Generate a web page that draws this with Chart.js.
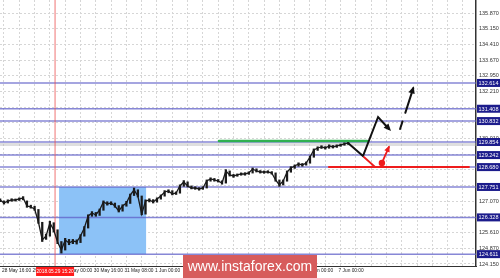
<!DOCTYPE html>
<html>
<head>
<meta charset="utf-8">
<script src="https://cdn.jsdelivr.net/npm/chart.js@4.4.0/dist/chart.umd.min.js"></script>
<style>
  html, body { margin: 0; padding: 0; background: #fff; }
</style>
</head>
<body>
<canvas id="chart" width="500" height="278"></canvas>
<script>
// price bars, one every 2 hours, hour 0 = 28 May 16:00
const firstHour = -2
const hourStep = 2
const closes = [
  127.142, 127.002, 127.095, 127.142, 127.142, 127.189, 127.235, 126.861, 126.815, 126.721,
  126.113, 125.272, 125.459, 126.067, 125.739, 125.178, 124.804, 125.272, 125.132, 125.225,
  125.178, 125.459, 125.833, 126.394, 126.534, 126.441, 126.674, 127.048, 126.955, 127.002,
  126.861, 126.628, 126.861, 127.002, 127.376, 127.609, 127.329, 126.487, 127.095, 127.142,
  127.048, 127.189, 127.329, 127.516, 127.563, 127.422, 127.469, 127.797, 127.984, 127.797,
  127.703, 127.703, 127.656, 127.703, 128.030, 128.124, 128.077, 128.030, 127.937, 128.498,
  128.311, 128.264, 128.311, 128.358, 128.358, 128.404, 128.591, 128.498, 128.451, 128.451,
  128.451, 128.404, 128.077, 127.843, 128.030, 128.451, 128.638, 128.731, 128.825, 128.778,
  128.872, 129.152, 129.479, 129.573, 129.620, 129.573, 129.667, 129.620, 129.667, 129.713,
  129.760, 129.807
]
const highs = [
  127.20, 127.10, 127.15, 127.20, 127.19, 127.24, 127.30, 127.10, 126.90, 126.85,
  126.70, 126.10, 125.55, 126.15, 126.08, 125.75, 125.20, 125.35, 125.30, 125.30,
  125.28, 125.52, 125.90, 126.45, 126.60, 126.56, 126.72, 127.10, 127.06, 127.06,
  127.00, 126.88, 126.92, 127.08, 127.42, 127.70, 127.62, 127.33, 127.15, 127.20,
  127.16, 127.24, 127.38, 127.58, 127.62, 127.58, 127.52, 127.85, 128.05, 127.99,
  127.80, 127.76, 127.72, 127.76, 128.08, 128.18, 128.15, 128.10, 128.04, 128.56,
  128.50, 128.34, 128.36, 128.41, 128.42, 128.46, 128.64, 128.60, 128.52, 128.50,
  128.51, 128.47, 128.41, 128.08, 128.08, 128.50, 128.70, 128.78, 128.88, 128.85,
  128.92, 129.20, 129.53, 129.63, 129.68, 129.64, 129.72, 129.69, 129.72, 129.76,
  129.82, 129.86
]
const lows = [
  127.06, 126.95, 127.00, 127.08, 127.09, 127.12, 127.15, 126.80, 126.76, 126.66,
  126.05, 125.20, 125.30, 125.45, 125.65, 125.10, 124.66, 124.80, 125.05, 125.10,
  125.08, 125.15, 125.45, 125.83, 126.38, 126.38, 126.42, 126.66, 126.90, 126.92,
  126.80, 126.58, 126.62, 126.85, 126.98, 127.35, 127.28, 126.45, 126.48, 127.05,
  127.00, 127.04, 127.18, 127.32, 127.48, 127.38, 127.40, 127.46, 127.78, 127.75,
  127.66, 127.64, 127.60, 127.64, 127.70, 128.02, 128.02, 127.98, 127.88, 127.93,
  128.26, 128.20, 128.25, 128.30, 128.30, 128.34, 128.40, 128.45, 128.40, 128.39,
  128.40, 128.35, 128.02, 127.78, 127.84, 128.02, 128.44, 128.62, 128.72, 128.72,
  128.77, 128.86, 129.14, 129.46, 129.55, 129.52, 129.56, 129.57, 129.60, 129.65,
  129.70, 129.74
]

// horizontal levels (blue lines with labels on the price axis)
const levels = [132.614, 131.408, 130.832, 129.854, 129.242, 128.680, 127.751, 126.328, 124.611]
const bidPrice = 129.74

// axis ticks
const priceTicks = [
  135.870, 135.150, 134.410, 133.670, 132.950, 132.210, 131.470, 130.750, 130.010,
  129.290, 128.550, 127.810, 127.070, 126.350, 125.610, 124.870, 124.150
]
const timeLabels = [
  '28 May 16:00', '29 May 08:00', '30 May 00:00', '30 May 16:00', '31 May 08:00', '1 Jun 00:00',
  '1 Jun 16:00', '4 Jun 08:00', '5 Jun 00:00', '5 Jun 16:00', '6 Jun 00:00', '7 Jun 00:00'
]
const labelEvery = 16
const gridHours = [0, 8, 16, 24, 32, 40, 48, 56, 64, 72, 80, 88, 96, 104, 112, 120, 128, 136,
  144, 152, 160, 168, 176, 184, 192, 200, 208, 216, 224, 232, 240]

// drawn objects (hours, price)
const zone = { from: 28.8, to: 74.3, low: 124.611, high: 127.751 }
const markerHour = 26.7
const markerText = '2018.05.29 15:20'
const greenLevel = { from: 112.4, to: 189.8, price: 129.90 }
const redLevel = { from: 169.9, to: 243.1, price: 128.684 }
const forecastPath = [[179.9, 129.807], [187.7, 129.199], [195.6, 131.022], [201.3, 130.461]]
const forecastNext = [[207.1, 130.46], [214.0, 132.37]]
const pullback = [[188.2, 129.152], [194.0, 128.685]]
const bounce = [[197.6, 128.872], [201.3, 129.62]]

const font = 'Liberation Sans, Arial, sans-serif'
const barHours = closes.map((_, i) => firstHour + i * hourStep)

const arrowHead = (ctx, x1, y1, x2, y2, size) => {
  const a = Math.atan2(y2 - y1, x2 - x1)
  ctx.beginPath()
  ctx.moveTo(x2, y2)
  ctx.lineTo(x2 - size * Math.cos(a - 0.42), y2 - size * Math.sin(a - 0.42))
  ctx.lineTo(x2 - size * Math.cos(a + 0.42), y2 - size * Math.sin(a + 0.42))
  ctx.closePath()
  ctx.fill()
}

const overlays = {
  id: 'overlays',
  beforeDatasetsDraw(chart) {
    const { ctx, chartArea: a, scales: { x, y } } = chart
    ctx.save()
    // blue zone
    const zx1 = x.getPixelForValue(zone.from), zx2 = x.getPixelForValue(zone.to)
    const zy1 = y.getPixelForValue(zone.high), zy2 = y.getPixelForValue(zone.low)
    ctx.fillStyle = 'rgb(140,194,247)'
    ctx.fillRect(zx1, zy1, zx2 - zx1, zy2 - zy1)
    // bid line
    ctx.strokeStyle = 'rgba(185,185,185,0.45)'
    ctx.lineWidth = 3
    ctx.beginPath()
    ctx.moveTo(a.left, y.getPixelForValue(bidPrice))
    ctx.lineTo(a.right, y.getPixelForValue(bidPrice))
    ctx.stroke()
    // levels
    ctx.strokeStyle = 'rgba(95,95,200,0.75)'
    ctx.lineWidth = 1.5
    levels.forEach(p => {
      const yy = y.getPixelForValue(p)
      ctx.beginPath()
      ctx.moveTo(a.left, yy)
      ctx.lineTo(a.right, yy)
      ctx.stroke()
    })
    // vertical marker
    const mx = x.getPixelForValue(markerHour)
    ctx.strokeStyle = 'rgba(235,80,80,0.8)'
    ctx.lineWidth = 1
    ctx.beginPath()
    ctx.moveTo(mx, a.top)
    ctx.lineTo(mx, a.bottom)
    ctx.stroke()
    ctx.restore()
  },
  afterDatasetsDraw(chart) {
    const { ctx, scales: { x, y } } = chart
    const pt = ([h, p]) => [x.getPixelForValue(h), y.getPixelForValue(p)]
    ctx.save()
    ctx.lineCap = 'round'
    // green level
    ctx.strokeStyle = '#2fb050'
    ctx.lineWidth = 2.5
    ctx.beginPath()
    ctx.moveTo(x.getPixelForValue(greenLevel.from), y.getPixelForValue(greenLevel.price))
    ctx.lineTo(x.getPixelForValue(greenLevel.to), y.getPixelForValue(greenLevel.price))
    ctx.stroke()
    // red level
    ctx.strokeStyle = '#ee1c1c'
    ctx.lineWidth = 2
    ctx.beginPath()
    ctx.moveTo(x.getPixelForValue(redLevel.from), y.getPixelForValue(redLevel.price))
    ctx.lineTo(x.getPixelForValue(redLevel.to), y.getPixelForValue(redLevel.price))
    ctx.stroke()
    // black forecast path
    ctx.strokeStyle = '#111'
    ctx.fillStyle = '#111'
    ctx.lineWidth = 2
    const fp = forecastPath.map(pt)
    ctx.beginPath()
    fp.forEach(([px, py], i) => i ? ctx.lineTo(px, py) : ctx.moveTo(px, py))
    ctx.stroke()
    const n = fp.length
    arrowHead(ctx, fp[n - 2][0], fp[n - 2][1], fp[n - 1][0] + 2, fp[n - 1][1] + 2, 8)
    // dashed continuation
    const [d1, d2] = forecastNext.map(pt)
    ctx.setLineDash([8, 9, 40])
    ctx.beginPath()
    ctx.moveTo(d1[0], d1[1])
    ctx.lineTo(d2[0], d2[1])
    ctx.stroke()
    ctx.setLineDash([])
    arrowHead(ctx, d1[0], d1[1], d2[0] + 0.5, d2[1] - 2, 8)
    // red pullback and bounce
    ctx.strokeStyle = '#ee1c1c'
    ctx.fillStyle = '#ee1c1c'
    ctx.lineWidth = 1.8
    const [r1, r2] = pullback.map(pt)
    ctx.beginPath()
    ctx.moveTo(r1[0], r1[1])
    ctx.lineTo(r2[0], r2[1])
    ctx.stroke()
    const [b1, b2] = bounce.map(pt)
    ctx.beginPath()
    ctx.arc(b1[0], b1[1], 3.2, 0, Math.PI * 2)
    ctx.fill()
    ctx.beginPath()
    ctx.moveTo(b1[0], b1[1])
    ctx.lineTo(b2[0], b2[1])
    ctx.stroke()
    arrowHead(ctx, b1[0], b1[1], b2[0] + 0.5, b2[1] - 1.5, 7)
    ctx.restore()
  },
  afterDraw(chart) {
    const { ctx, chartArea: a, scales: { x, y } } = chart
    ctx.save()
    // level labels on price axis
    ctx.font = '5.5px ' + font
    ctx.textAlign = 'center'
    ctx.textBaseline = 'middle'
    levels.forEach(p => {
      const yy = y.getPixelForValue(p)
      ctx.fillStyle = '#1c1c8c'
      ctx.fillRect(a.right + 1, yy - 4, 23, 8)
      ctx.fillStyle = '#fff'
      ctx.fillText(p.toFixed(3), a.right + 12.5, yy + 0.3)
    })
    // marker time box
    const mx = x.getPixelForValue(markerHour)
    ctx.font = '4.8px ' + font
    ctx.fillStyle = '#ff1a1a'
    ctx.fillRect(mx - 19, a.bottom + 1, 38, 9)
    ctx.fillStyle = '#fff'
    ctx.fillText(markerText, mx, a.bottom + 5.5)
    // watermark
    ctx.fillStyle = '#d75c5c'
    ctx.fillRect(183, 255, 134, 23)
    ctx.fillStyle = '#fff'
    ctx.font = '14px ' + font
    ctx.fillText('www.instaforex.com', 250, 267)
    ctx.restore()
  }
}

new Chart(document.getElementById('chart'), {
  data: {
    datasets: [{
      type: 'line',
      data: barHours.map((h, i) => ({ x: h, y: closes[i] })),
      borderColor: '#1a1a1a',
      borderWidth: 1.3,
      pointRadius: 0,
      tension: 0
    }, {
      type: 'bar',
      data: barHours.map((h, i) => ({ x: h, y: [lows[i], highs[i]] })),
      backgroundColor: '#1a1a1a',
      barThickness: 1.6,
      borderWidth: 0
    }]
  },
  options: {
    responsive: false,
    animation: false,
    layout: { padding: 0 },
    plugins: { legend: { display: false }, tooltip: { enabled: false } },
    scales: {
      x: {
        type: 'linear',
        min: -2.09,
        max: 246.8,
        offset: false,
        afterBuildTicks: s => { s.ticks = gridHours.map(v => ({ value: v })) },
        afterFit: s => { s.height = 12; s.paddingLeft = 0; s.paddingRight = 0 },
        grid: { color: '#d6d6d6', lineWidth: 1, drawTicks: false, offset: false },
        border: { display: true, color: '#333', width: 1, dash: [2, 2] },
        ticks: {
          autoSkip: false,
          maxRotation: 0,
          align: 'start',
          labelOffset: -2,
          padding: 2,
          color: '#222',
          font: { size: 4.8, family: font },
          callback: v => (v % labelEvery === 0 && timeLabels[v / labelEvery]) || ''
        }
      },
      y: {
        position: 'right',
        min: 124.056,
        max: 136.492,
        afterBuildTicks: s => { s.ticks = priceTicks.map(v => ({ value: v })) },
        afterFit: s => { s.width = 24; s.paddingTop = 0; s.paddingBottom = 0 },
        grid: { color: '#d6d6d6', lineWidth: 1, drawTicks: false },
        border: { display: true, color: '#333', width: 1.5, dash: [2, 2] },
        ticks: {
          autoSkip: false,
          padding: 3,
          color: '#333',
          font: { size: 5.5, family: font },
          callback: v => v.toFixed(3)
        }
      }
    }
  },
  plugins: [overlays]
})
</script>
</body>
</html>
